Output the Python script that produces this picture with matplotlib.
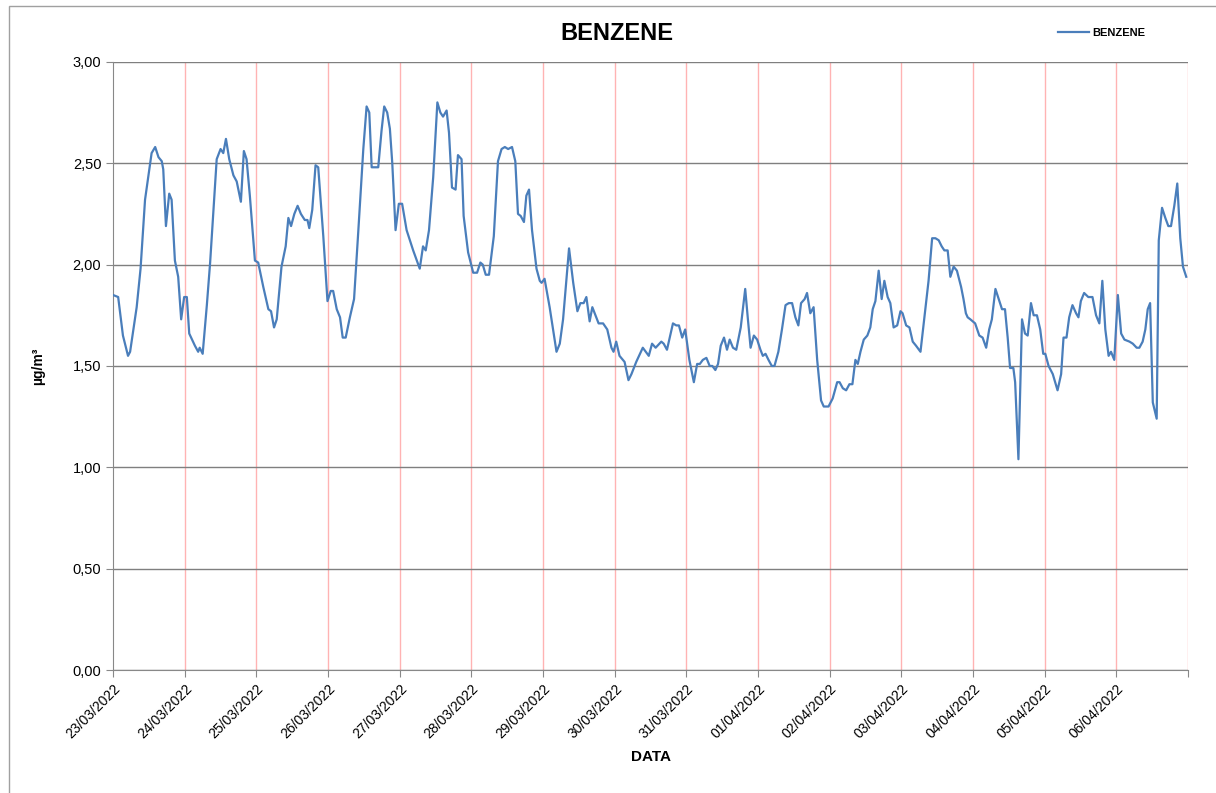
import matplotlib
matplotlib.use('Agg')
import matplotlib.pyplot as plt
import matplotlib.dates as mdates
from matplotlib.patches import Rectangle
import pandas as pd

plt.rcParams['font.family'] = ['Liberation Sans', 'DejaVu Sans']

# hours from 23/03/2022 00:00 and benzene concentration (ug/m3)
hours = [0.0, 1.7, 3.3, 5.0, 5.7, 7.9, 9.2, 10.7, 12.9, 14.1, 15.2, 16.3, 16.8, 17.7, 18.8, 19.6,
         20.7, 21.8, 22.8, 23.8, 24.7, 25.5, 27.4, 28.5, 29.0, 30.0, 31.4, 32.5, 34.7, 36.0, 36.9,
         37.8, 38.9, 40.3, 41.4, 42.8, 43.8, 44.7, 45.8, 47.5, 48.6, 50.3, 52.0, 52.9, 53.9, 54.8,
         56.4, 57.8, 58.7, 59.6, 60.7, 61.8, 62.9, 64.2, 65.1, 65.7, 66.7, 67.8, 68.7, 70.4, 71.8,
         72.9, 73.7, 74.9, 76.0, 76.9, 77.9, 79.3, 80.7, 82.1, 83.8, 84.9, 85.8, 86.6, 88.8, 89.9,
         90.8, 91.8, 92.7, 93.5, 94.6, 95.7, 96.8, 98.3, 100.5, 102.7, 103.8, 104.7, 105.8, 107.2,
         108.6, 109.6, 110.5, 111.7, 112.5, 113.5, 114.7, 115.5, 116.7, 117.4, 118.9, 120.6, 121.9,
         123.0, 123.8, 124.8, 125.9, 127.5, 128.9, 130.1, 131.2, 132.3, 133.6, 134.7, 135.6, 136.5,
         137.6, 138.4, 139.3, 140.3, 141.8, 142.9, 143.5, 144.5, 146.2, 148.5, 149.6, 150.7, 152.7,
         154.1, 155.5, 156.5, 157.6, 158.5, 159.6, 160.5, 161.3, 162.6, 164.1, 165.5, 166.9, 167.6,
         168.5, 169.6, 171.3, 172.6, 173.6, 175.2, 177.4, 179.4, 180.5, 181.7, 183.6, 184.4, 185.5,
         187.5, 188.6, 189.5, 190.6, 191.6, 193.0, 194.5, 195.6, 196.5, 197.5, 198.7, 199.8, 200.7,
         201.7, 202.6, 203.5, 204.6, 205.6, 206.5, 207.6, 208.7, 210.2, 211.7, 212.6, 213.5, 214.6,
         215.7, 216.8, 217.6, 218.5, 219.5, 220.6, 221.5, 222.8, 224.0, 225.2, 226.3, 227.4, 228.5,
         229.5, 230.4, 231.6, 232.4, 233.5, 234.6, 235.8, 237.1, 238.0, 239.6, 241.0, 242.5, 243.3,
         244.4, 245.5, 246.6, 247.6, 248.6, 249.4, 250.3, 251.4, 252.6, 253.6, 254.4, 255.3, 256.4,
         257.4, 258.3, 259.4, 260.3, 261.4, 262.6, 263.7, 264.4, 265.6, 266.7, 267.8, 268.9, 270.4,
         271.7, 273.1, 274.3, 275.4, 276.5, 277.5, 278.4, 279.5, 280.4, 281.5, 282.6, 284.0, 284.8,
         285.6, 286.2, 287.1, 288.7, 290.1, 291.2, 292.4, 293.4, 294.3, 295.5, 296.6, 297.7, 298.7,
         299.6, 300.4, 301.5, 302.1, 303.2, 304.4, 305.4, 306.3, 307.4, 308.3, 309.4, 310.5, 311.5,
         312.2, 313.3, 314.7, 316.3, 317.5, 318.3, 319.3, 320.2, 321.3, 322.5, 323.3, 324.1, 325.2,
         326.6, 328.0, 329.2, 330.3, 331.3, 332.3, 333.4, 334.2, 335.3, 336.5, 337.6, 338.7, 340.4,
         341.5, 342.8, 343.7, 344.8, 345.7, 346.5, 347.3, 348.2, 349.5, 350.2, 351.3, 352.4, 353.4,
         354.3, 355.4, 356.4, 357.4, 358.3, 359.4]
benzene = [1.85, 1.84, 1.65, 1.55, 1.57, 1.79, 1.98, 2.32, 2.55, 2.58, 2.53, 2.51, 2.47, 2.19, 2.35, 2.32,
           2.02, 1.94, 1.73, 1.84, 1.84, 1.66, 1.60, 1.57, 1.59, 1.56, 1.80, 2.01, 2.52, 2.57, 2.55,
           2.62, 2.52, 2.44, 2.41, 2.31, 2.56, 2.52, 2.34, 2.02, 2.01, 1.89, 1.78, 1.77, 1.69, 1.73,
           1.99, 2.09, 2.23, 2.19, 2.25, 2.29, 2.25, 2.22, 2.22, 2.18, 2.27, 2.49, 2.48, 2.14, 1.82,
           1.87, 1.87, 1.78, 1.74, 1.64, 1.64, 1.74, 1.83, 2.16, 2.57, 2.78, 2.75, 2.48, 2.48, 2.66,
           2.78, 2.75, 2.67, 2.50, 2.17, 2.30, 2.30, 2.17, 2.07, 1.98, 2.09, 2.07, 2.17, 2.43,
           2.80, 2.75, 2.73, 2.76, 2.65, 2.38, 2.37, 2.54, 2.52, 2.24, 2.06, 1.96, 1.96,
           2.01, 2.00, 1.95, 1.95, 2.14, 2.51, 2.57, 2.58, 2.57, 2.58, 2.51, 2.25, 2.24,
           2.21, 2.34, 2.37, 2.17, 1.98, 1.92, 1.91, 1.93, 1.79, 1.57, 1.61, 1.73, 2.08,
           1.91, 1.77, 1.81, 1.81, 1.84, 1.72, 1.79, 1.76, 1.71, 1.71, 1.68, 1.59, 1.57,
           1.62, 1.55, 1.52, 1.43, 1.46, 1.52, 1.59, 1.55, 1.61, 1.59, 1.62, 1.61, 1.58,
           1.71, 1.70, 1.70, 1.64, 1.68, 1.53, 1.42, 1.51, 1.51, 1.53, 1.54, 1.50, 1.50,
           1.48, 1.51, 1.60, 1.64, 1.58, 1.63, 1.59, 1.58, 1.69, 1.88, 1.73, 1.59, 1.65,
           1.63, 1.58, 1.55, 1.56, 1.53, 1.50, 1.50, 1.57, 1.68, 1.80, 1.81, 1.81, 1.74,
           1.70, 1.81, 1.83, 1.86, 1.76, 1.79, 1.53, 1.33, 1.30, 1.30, 1.34, 1.42, 1.42,
           1.39, 1.38, 1.41, 1.41, 1.53, 1.51, 1.57, 1.63, 1.65, 1.69, 1.78, 1.82, 1.97,
           1.83, 1.92, 1.84, 1.81, 1.69, 1.70, 1.77, 1.76, 1.70, 1.69, 1.62, 1.60, 1.57,
           1.74, 1.92, 2.13, 2.13, 2.12, 2.09, 2.07, 2.07, 1.94, 1.99, 1.97, 1.89, 1.83,
           1.76, 1.74, 1.73, 1.71, 1.65, 1.64, 1.59, 1.68, 1.73, 1.88, 1.83, 1.78, 1.78,
           1.64, 1.49, 1.49, 1.42, 1.04, 1.73, 1.66, 1.65, 1.81, 1.75, 1.75, 1.68, 1.56,
           1.56, 1.50, 1.46, 1.38, 1.46, 1.64, 1.64, 1.74, 1.80, 1.76, 1.74, 1.82, 1.86,
           1.84, 1.84, 1.75, 1.71, 1.92, 1.68, 1.55, 1.57, 1.53, 1.85, 1.66, 1.63, 1.62,
           1.61, 1.59, 1.59, 1.62, 1.68, 1.78, 1.81, 1.32, 1.24, 2.12, 2.28, 2.23, 2.19,
           2.19, 2.29, 2.40, 2.13, 1.99, 1.94]

start = pd.Timestamp('2022-03-23')
end = pd.Timestamp('2022-04-07')
times = start + pd.to_timedelta(hours, unit='h')
days = pd.date_range(start, end, freq='D')

fig = plt.figure(figsize=(12.16, 7.93), dpi=100)
ax = fig.add_axes([0.093, 0.155, 0.884, 0.767])

ax.plot(times, benzene, color='#4A7EBB', linewidth=1.6, label='BENZENE', zorder=3)

ax.set_xlim(start, end)
ax.set_ylim(0, 3)
ax.set_yticks([0, 0.5, 1.0, 1.5, 2.0, 2.5, 3.0])
ax.yaxis.set_major_formatter(plt.FuncFormatter(lambda v, p: ('%.2f' % v).replace('.', ',')))
ax.set_xticks(days)
ax.set_xticklabels([d.strftime('%d/%m/%Y') for d in days[:-1]] + [''], rotation=45, ha='right',
                   rotation_mode='anchor', fontsize=10)
ax.tick_params(axis='y', labelsize=10.5, length=5, color='#888888')
ax.tick_params(axis='x', length=5, color='#888888')

# horizontal grey grid, red day separators (not on the y axis itself)
ax.grid(axis='y', color='#7f7f7f', linewidth=1.0, zorder=1)
for d in days[1:]:
    ax.axvline(d, color='#ffb3b3', linewidth=1.0, zorder=1)
for s in ['top', 'right']:
    ax.spines[s].set_visible(False)
for s in ['left', 'bottom']:
    ax.spines[s].set_color('#888888')
    ax.spines[s].set_zorder(2)

ax.set_xlabel('DATA', fontsize=11, fontweight='bold', labelpad=6)
ax.set_ylabel('µg/m³', fontsize=10, fontweight='bold', labelpad=20)

fig.text(0.507, 0.958, 'BENZENE', fontsize=17, fontweight='bold', ha='center', va='center')
leg = fig.legend(loc='center left', bbox_to_anchor=(0.862, 0.958), frameon=False,
                 prop={'size': 8, 'weight': 'bold'}, handlelength=2.8, handletextpad=0.3)

# outer chart frame
fig.patches.append(Rectangle((9 / 1216, -0.1), 1.2, 1.1 - 6 / 793, transform=fig.transFigure,
                             fill=False, edgecolor='#a0a0a0', linewidth=1.0))

fig.savefig('out.png', dpi=100)
